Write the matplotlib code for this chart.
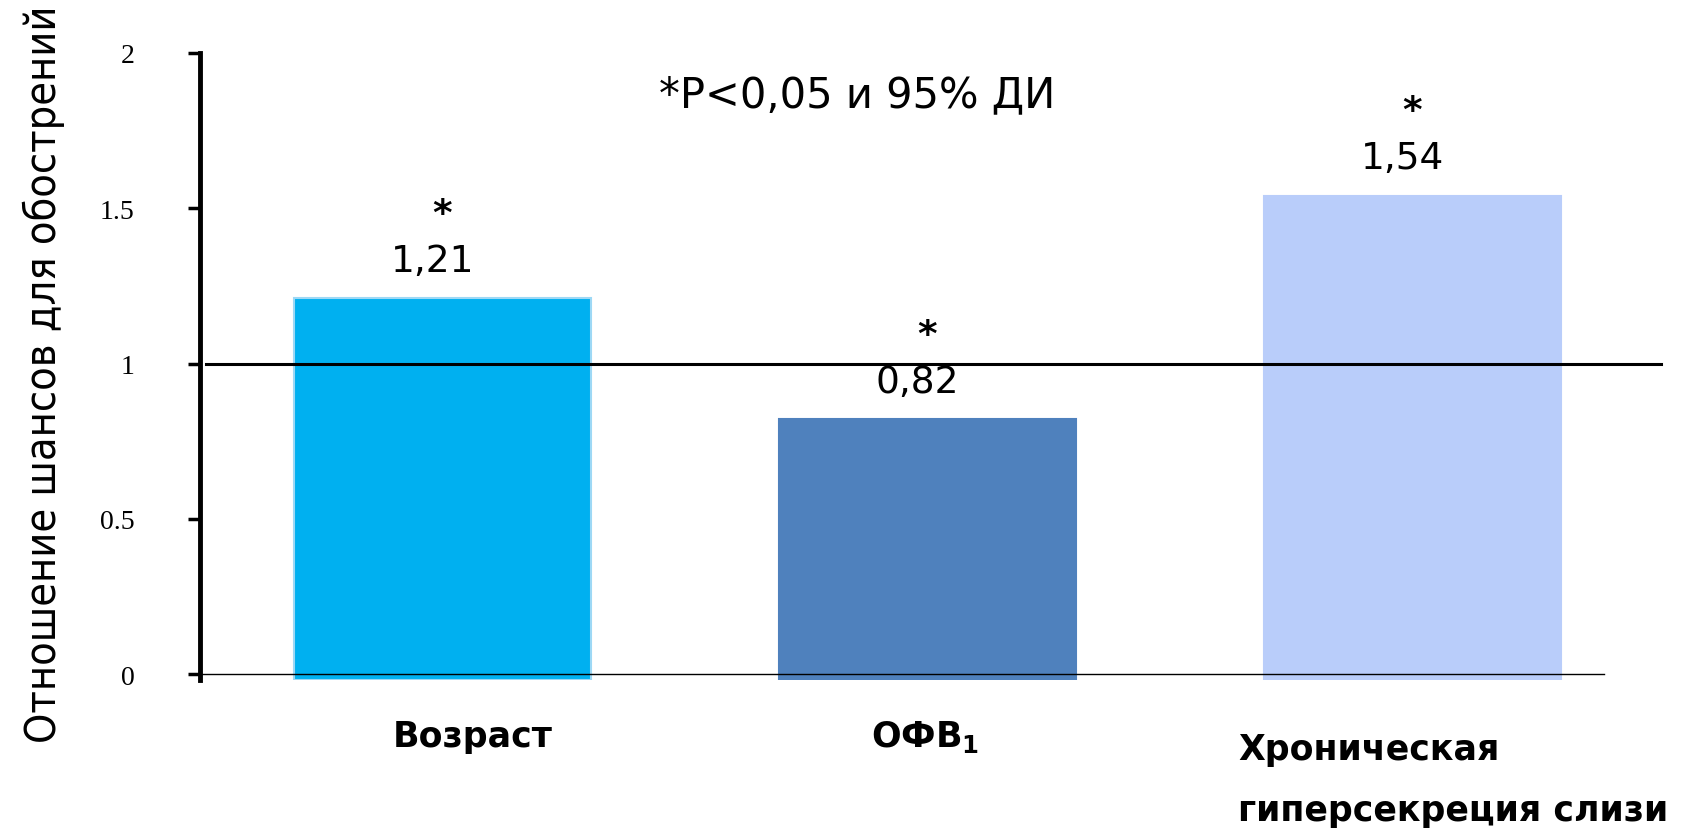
import numpy as np
import matplotlib
matplotlib.use('Agg')
import matplotlib.pyplot as plt
from matplotlib import font_manager

# данные: отношение шансов для обострений
categories = ['Возраст', 'ОФВ$_\\mathbf{1}$', 'Хроническая\nгиперсекреция слизи']
values = [1.21, 0.82, 1.54]
value_labels = ['1,21', '0,82', '1,54']
colors = ['#00B0F0', '#4F81BD', '#B9CDFA']
yticks = [0, 0.5, 1, 1.5, 2]
ytick_labels = ['0', '0.5', '1', '1.5', '2']

label_font = ['DejaVu Sans']

# узкий шрифт для подписи оси, если есть
names = {f.name for f in font_manager.fontManager.ttflist}
if 'Liberation Sans Narrow' in names:
    ylab_font = dict(family='Liberation Sans Narrow')
else:
    ylab_font = dict(family='DejaVu Sans', stretch='condensed')

fig = plt.figure(figsize=(16.91, 8.37), dpi=100)
ax = fig.add_axes([0.118, 0.186, 0.864, 0.7495])

x = np.arange(len(values))
base = -0.02
bars = ax.bar(x, np.array(values) - base, bottom=base, width=0.612,
              color=colors, edgecolor=['#9DD8F5', colors[1], colors[2]], linewidth=1.5)

ax.set_xlim(-0.5, 2.512)
ax.set_ylim(base, 2.0)

# линия отношения шансов = 1 и ось x
ax.plot([-0.487, 2.512], [1, 1], color='black', lw=2.2, clip_on=False)
ax.plot([-0.5, 2.396], [0, 0], color='black', lw=1.0)

for s in ['top', 'right', 'bottom']:
    ax.spines[s].set_visible(False)
ax.spines['left'].set_linewidth(3.5)
ax.spines['left'].set_bounds(base, 2.0)

ax.set_yticks(yticks)
ax.set_yticklabels(ytick_labels, family='Liberation Serif', fontsize=20)
ax.tick_params(axis='y', direction='out', length=9, width=2.5, pad=38)
ax.set_xticks([])

ax.set_ylabel('Отношение шансов для обострений', fontsize=31, labelpad=18, **ylab_font)
ax.yaxis.set_label_coords(-0.092, 0.49)

# подписи значений и звёздочки
for xi, v, lab in zip(x, values, value_labels):
    ax.annotate(lab, (xi - 0.02, v), xytext=(0, 27), textcoords='offset points',
                ha='center', va='center', fontsize=27, family=label_font)
    ax.annotate('*', (xi, v), xytext=(0, 61), textcoords='offset points',
                ha='center', va='center', fontsize=27, fontweight='bold', family=label_font)

# подписи категорий
ax.text(0.063, -0.2, categories[0], ha='center', va='center', fontsize=25,
        fontweight='bold', family=label_font)
ax.text(0.996, -0.2, categories[1], ha='center', va='center', fontsize=25,
        fontweight='bold', family=label_font)
ax.text(1.641, -0.34, categories[2], ha='left', va='center', fontsize=25,
        fontweight='bold', family=label_font, linespacing=2.0)

ax.text(0.856, 1.868, '*P<0,05 и 95% ДИ', ha='center', va='center', fontsize=30,
        family=label_font)

fig.savefig('out.png', dpi=100)
